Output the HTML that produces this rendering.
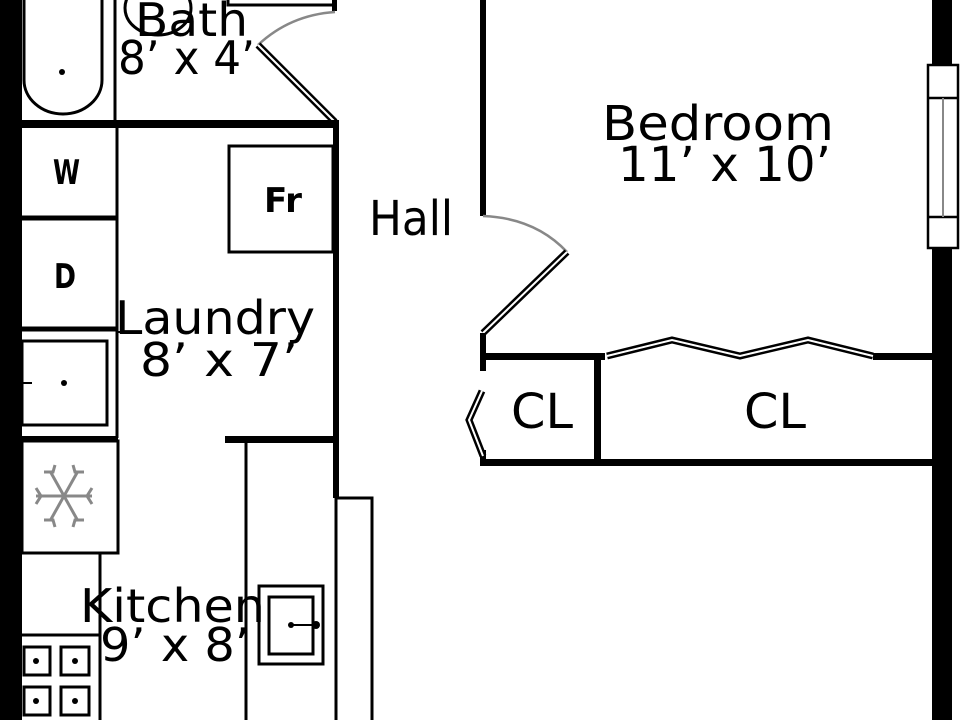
<!DOCTYPE html>
<html><head><meta charset="utf-8"><style>
html,body{margin:0;padding:0;background:#fff;width:960px;height:720px;overflow:hidden}
svg{display:block}
text{font-family:"DejaVu Sans","Liberation Sans",sans-serif;fill:#000}
</style></head><body>
<svg width="960" height="720" viewBox="0 0 960 720" xmlns="http://www.w3.org/2000/svg">
<rect width="960" height="720" fill="#fff"/>
<rect x="0" y="0" width="22" height="720" fill="#000"/>
<rect x="932" y="0" width="20" height="720" fill="#000"/>
<rect x="928" y="65" width="30" height="183" fill="#fff" stroke="#000" stroke-width="2.5"/>
<line x1="928" y1="98" x2="958" y2="98" stroke="#000" stroke-width="2.5"/>
<line x1="928" y1="217" x2="958" y2="217" stroke="#000" stroke-width="2.5"/>
<line x1="943" y1="98" x2="943" y2="217" stroke="#888" stroke-width="2"/>

<g fill="none" stroke="#000">
<path d="M24,0 V80 A39,34 0 0 0 102,80 V0" stroke-width="3"/>
<line x1="115" y1="0" x2="115" y2="122" stroke-width="3"/>
<ellipse cx="158" cy="8" rx="33" ry="27" stroke-width="3"/>
<rect x="228" y="-5" width="107" height="10" stroke-width="3"/>
<rect x="332" y="0" width="5" height="11" fill="#000" stroke="none"/>
<path d="M335,12 Q290,15 258,45" stroke="#888" stroke-width="2.5"/>
<line x1="258" y1="45" x2="335" y2="122" stroke-width="7"/>
<line x1="258" y1="45" x2="335" y2="122" stroke="#fff" stroke-width="2"/>
<rect x="22" y="120" width="316" height="8" fill="#000" stroke="none"/>
<line x1="117" y1="128" x2="117" y2="438" stroke-width="3"/>
<line x1="22" y1="218" x2="118" y2="218" stroke-width="5"/>
<line x1="22" y1="329" x2="118" y2="329" stroke-width="5"/>
<rect x="229" y="146" width="104" height="106" stroke-width="3"/>
<rect x="333" y="120" width="6" height="378" fill="#000" stroke="none"/>
<rect x="22" y="341" width="85" height="84" stroke-width="3"/>
<line x1="22" y1="383" x2="32" y2="383" stroke-width="2"/>
<line x1="117" y1="332" x2="138" y2="332" stroke-width="2"/>
<rect x="22" y="436" width="96" height="6" fill="#000" stroke="none"/>
<rect x="225" y="436" width="110" height="7" fill="#000" stroke="none"/>
<rect x="22" y="441" width="96" height="112" stroke-width="3"/>
<g stroke="#888" stroke-width="3">
<line x1="36" y1="496" x2="92" y2="496"/>
<line x1="50" y1="471" x2="78" y2="521"/>
<line x1="50" y1="521" x2="78" y2="471"/>
<path d="M36,488 l5,8 l-5,8 M92,488 l-5,8 l5,8 M44,472 l9,0 l2,-7 M84,472 l-9,0 l-2,-7 M44,520 l9,0 l2,7 M84,520 l-9,0 l-2,7"/>
</g>
<line x1="100" y1="553" x2="100" y2="720" stroke-width="3"/>
<line x1="22" y1="635" x2="100" y2="635" stroke-width="3"/>
<g stroke-width="3">
<rect x="24" y="647" width="26" height="28"/><rect x="61" y="647" width="28" height="28"/>
<rect x="24" y="687" width="26" height="28"/><rect x="61" y="687" width="28" height="28"/>
</g>
<line x1="246" y1="442" x2="246" y2="720" stroke-width="3"/>
<rect x="259" y="586" width="64" height="78" stroke-width="3"/>
<rect x="269" y="597" width="44" height="57" stroke-width="3"/>
<line x1="291" y1="625" x2="316" y2="625" stroke-width="2"/>
<rect x="336" y="498" width="36" height="230" stroke-width="3"/>
<rect x="480" y="0" width="6" height="216" fill="#000" stroke="none"/>
<path d="M483,216 Q535,218 567,252" stroke="#888" stroke-width="2.5"/>
<line x1="567" y1="252" x2="483" y2="333" stroke-width="7"/>
<line x1="567" y1="252" x2="483" y2="333" stroke="#fff" stroke-width="2"/>
<rect x="480" y="333" width="6" height="38" fill="#000" stroke="none"/>
<rect x="483" y="353" width="122" height="7" fill="#000" stroke="none"/>
<rect x="873" y="353" width="60" height="7" fill="#000" stroke="none"/>
<polyline points="607,356 672,340 740,356 808,340 873,356" stroke-width="7" stroke-linejoin="miter"/>
<polyline points="607,356 672,340 740,356 808,340 873,356" stroke="#fff" stroke-width="2"/>
<rect x="594" y="356" width="7" height="106" fill="#000" stroke="none"/>
<rect x="483" y="459" width="450" height="7" fill="#000" stroke="none"/>
<rect x="480" y="450" width="6" height="16" fill="#000" stroke="none"/>
<polyline points="482,391 469,420 483,456" stroke-width="7"/>
<polyline points="482,391 469,420 483,456" stroke="#fff" stroke-width="2"/>
</g>
<g fill="#000">
<circle cx="62" cy="72" r="3"/><circle cx="64" cy="383" r="3"/>
<circle cx="291" cy="625" r="3"/><circle cx="316" cy="625" r="4"/>
<circle cx="36" cy="661" r="3"/><circle cx="75" cy="661" r="3"/>
<circle cx="36" cy="701" r="3"/><circle cx="75" cy="701" r="3"/>
</g>
<text x="135" y="36" font-size="46" textLength="113" lengthAdjust="spacingAndGlyphs">Bath</text>
<text x="118" y="74" font-size="46" textLength="137" lengthAdjust="spacingAndGlyphs">8’ x 4’</text>
<text x="264" y="212" font-size="34" font-weight="bold" textLength="38" lengthAdjust="spacingAndGlyphs">Fr</text>
<text x="53" y="184" font-size="34" font-weight="bold" textLength="27" lengthAdjust="spacingAndGlyphs">W</text>
<text x="54" y="288" font-size="34" font-weight="bold" textLength="22" lengthAdjust="spacingAndGlyphs">D</text>
<text x="115" y="334" font-size="46" textLength="200" lengthAdjust="spacingAndGlyphs">Laundry</text>
<text x="140" y="376" font-size="46" textLength="158" lengthAdjust="spacingAndGlyphs">8’ x 7’</text>
<text x="80" y="622" font-size="46" textLength="185" lengthAdjust="spacingAndGlyphs">Kitchen</text>
<text x="100" y="661" font-size="46" textLength="150" lengthAdjust="spacingAndGlyphs">9’ x 8’</text>
<text x="369" y="235" font-size="48" textLength="84" lengthAdjust="spacingAndGlyphs">Hall</text>
<text x="602" y="140" font-size="48" textLength="232" lengthAdjust="spacingAndGlyphs">Bedroom</text>
<text x="618" y="181" font-size="48" textLength="213" lengthAdjust="spacingAndGlyphs">11’ x 10’</text>
<text x="511" y="428" font-size="48" textLength="62" lengthAdjust="spacingAndGlyphs">CL</text>
<text x="744" y="428" font-size="48" textLength="62" lengthAdjust="spacingAndGlyphs">CL</text>
</svg>
</body></html>
